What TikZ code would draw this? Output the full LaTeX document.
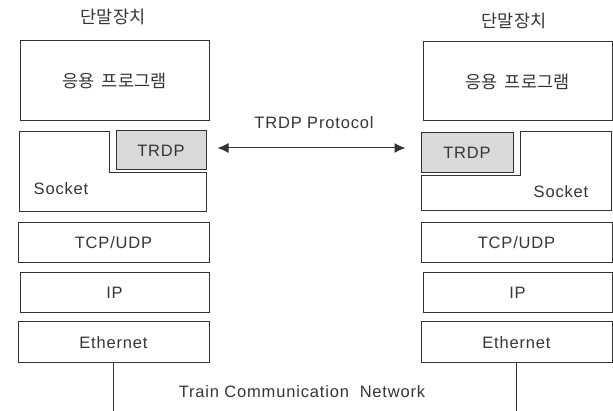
\documentclass[tikz,border=0pt]{standalone}
\usepackage{fontspec}
\setmainfont{Liberation Sans}[LetterSpace=5.0]
\newfontfamily\kr{Noto Sans CJK KR}
\usetikzlibrary{arrows.meta}
\definecolor{linec}{HTML}{333333}
\definecolor{trdpgray}{HTML}{D9D9D9}
\definecolor{txtc}{HTML}{353535}
\tikzset{
  box/.style={draw=linec, line width=1pt, inner sep=0pt, anchor=center, text=txtc},
  trdpbox/.style={box, fill=trdpgray},
  lbl/.style={font=\fontsize{16.5}{20}\selectfont, text=txtc, inner sep=0pt},
  krl/.style={font=\kr\fontsize{17.5}{20}\selectfont, text=txtc, inner sep=0pt},
  wire/.style={draw=linec, line width=1pt},
  tip/.style={Latex[length=11pt,width=10pt]},
}
\begin{document}
\begin{tikzpicture}[x=1pt,y=-1pt]
\useasboundingbox (0,0) rectangle (613,411);
% titles
\node[krl] (titleL) at (113,17) {단말장치};
\node[krl] (titleR) at (514,21) {단말장치};
% application boxes
\node[box, krl, minimum width=189pt, minimum height=80pt] (appL) at (114.5,81) {응용\hspace{7pt}프로그램};
\node[box, krl, minimum width=189pt, minimum height=79pt] (appR) at (517.5,81.5) {응용\hspace{7pt}프로그램};
% socket L-shapes
\draw[wire] (19,132) -- (109,132) -- (109,173) -- (206,173) -- (206,212) -- (19,212) -- cycle;
\draw[wire] (520,132) -- (611,132) -- (611,211) -- (421,211) -- (421,176) -- (520,176) -- cycle;
\node[lbl] (sockL) at (61,189) {Socket};
\node[lbl] (sockR) at (561,192) {Socket};
% TRDP boxes
\node[trdpbox, lbl, minimum width=90pt, minimum height=39pt] (trdpL) at (161,150.5) {TRDP};
\node[trdpbox, lbl, minimum width=92pt, minimum height=40pt] (trdpR) at (467,153) {TRDP};
% protocol arrow
\node[lbl] (proto) at (314,123) {TRDP Protocol};
\draw[wire, {Latex[length=11pt,width=10pt]}-{Latex[length=11pt,width=10pt]}, shorten <=11pt, shorten >=15pt]
  ([yshift=2.5pt]trdpL.east) -- ([yshift=5pt]trdpR.west);
% lower stacks
\node[box, lbl, minimum width=191pt, minimum height=40pt] (tcpL) at (113.5,243) {TCP/UDP};
\node[box, lbl, minimum width=189pt, minimum height=40pt] (ipL) at (114.5,293) {IP};
\node[box, lbl, minimum width=191pt, minimum height=41pt] (ethL) at (113.5,342.5) {Ethernet};
\node[box, lbl, minimum width=191pt, minimum height=40pt] (tcpR) at (516.5,243) {TCP/UDP};
\node[box, lbl, minimum width=189pt, minimum height=40pt] (ipR) at (517.5,293) {IP};
\node[box, lbl, minimum width=191pt, minimum height=41pt] (ethR) at (516.5,342.5) {Ethernet};
% network
\coordinate (netbottom) at (0,411);
\draw[wire] (ethL.south) -- (ethL.south |- netbottom);
\draw[wire] (ethR.south) -- (ethR.south |- netbottom);
\node[lbl] (tcn) at (302,392) {Train Communication\ \ Network};
\end{tikzpicture}
\end{document}
